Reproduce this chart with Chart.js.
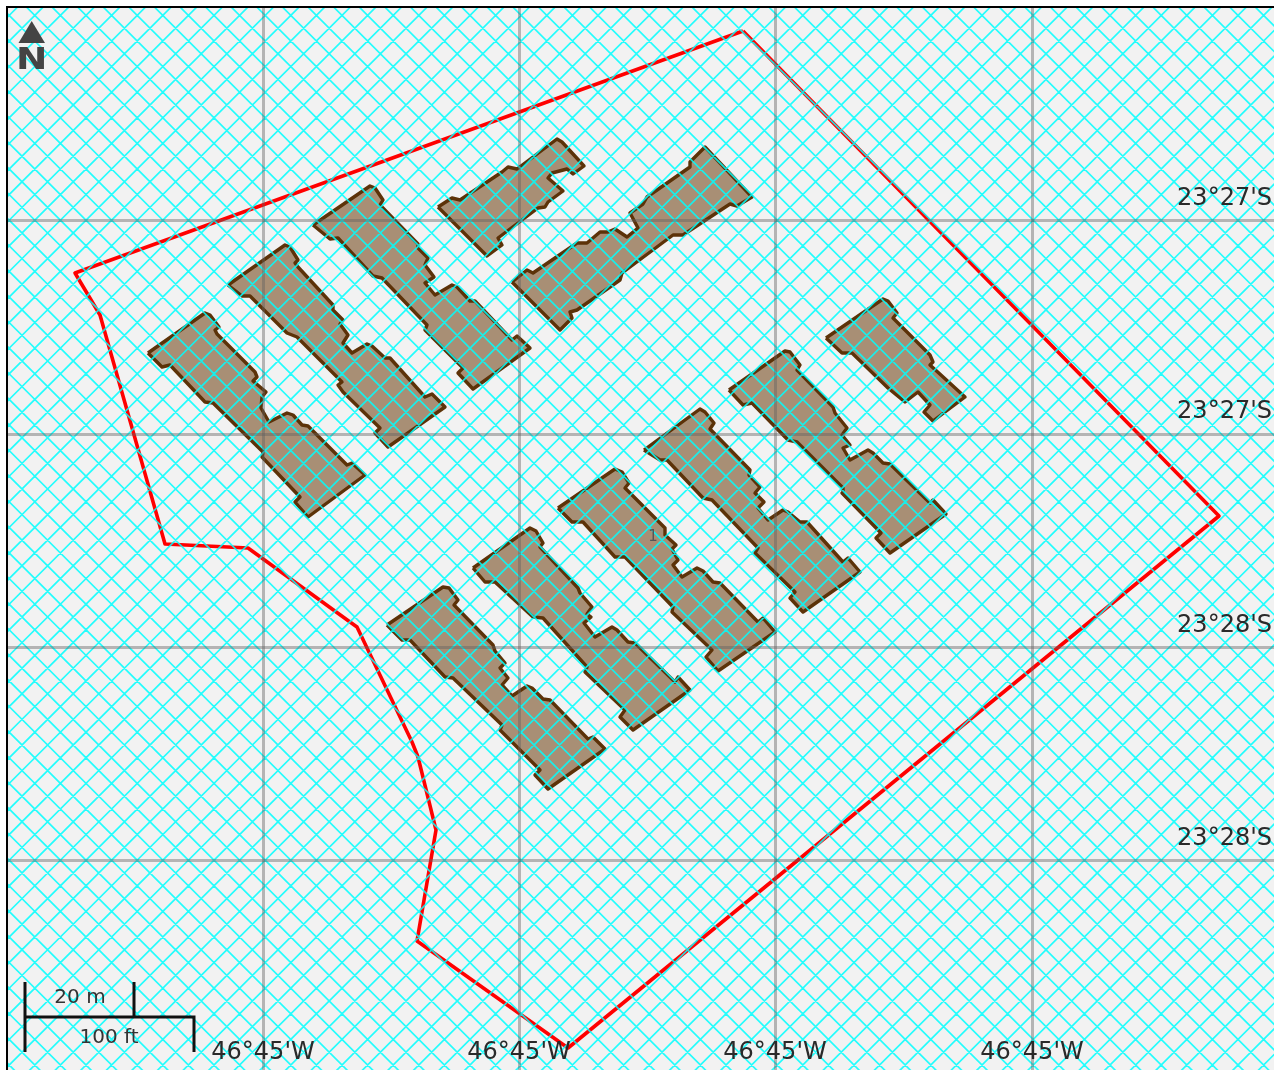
<!DOCTYPE html>
<html><head><meta charset="utf-8">
<script src="https://cdn.jsdelivr.net/npm/chart.js@4"></script>
<style>
html,body{margin:0;padding:0;background:#fff;overflow:hidden;width:1274px;height:1070px}
#frame{position:absolute;left:6px;top:6px;width:1268px;height:1064px;box-sizing:border-box;border-left:2.5px solid #000;border-top:2.5px solid #000}
#c{position:absolute;left:8px;top:8px;filter:blur(0.6px)}
</style></head><body>
<div id="frame"></div>
<canvas id="c" width="1266" height="1062"></canvas>
<script>
// Map features, in map units
const boundary=[[743,31],[1219,516],[568,1048],[417,941],[436,830],[418,757],[412,742],[357,627],[350,622],[248,548],[165,544],[100,315],[75,273],[743,31]];
const buildingA=[[148,353],[205,313],[210,315],[219,327],[215,330],[217,334],[255,372],[257,377],[253,381],[266,392],[262,397],[261,408],[269,422],[287,413],[293,415],[302,425],[308,426],[347,465],[352,463],[365,475],[308,517],[295,502],[300,497],[262,457],[263,452],[213,403],[205,402],[170,365],[162,367],[148,353]];
const buildingB=[[228,285],[285,245],[290,247],[298,260],[295,263],[298,267],[333,305],[333,310],[343,320],[340,324],[348,335],[343,343],[352,353],[367,344],[372,346],[385,358],[390,358],[425,397],[432,394],[445,407],[388,447],[375,433],[380,428],[343,392],[338,385],[342,382],[297,337],[287,333],[250,296],[242,296],[228,285]];
const buildingC=[[313,225],[370,186],[375,188],[383,200],[380,205],[418,244],[418,248],[428,258],[425,265],[434,277],[425,283],[435,295],[452,285],[457,287],[470,301],[475,301],[512,340],[517,336],[530,348],[473,389],[458,373],[463,368],[425,330],[427,325],[382,278],[373,276],[338,238],[330,239],[313,225]];
const buildingD=[[438,207],[452,198],[460,200],[502,172],[508,167],[517,169],[557,139],[562,142],[584,166],[573,174],[567,169],[552,173],[548,178],[563,191],[548,202],[545,207],[538,208],[498,238],[502,245],[487,256],[438,207]];
const buildingE=[[512,282],[527,270],[533,273],[577,243],[587,243],[600,232],[608,232],[615,229],[627,237],[638,228],[630,213],[643,204],[647,197],[690,167],[690,162],[705,147],[752,197],[737,206],[730,204],[683,235],[673,235],[622,273],[620,280],[577,310],[570,312],[572,318],[560,330],[512,282]];
const buildingF=[[826,338],[883,299],[888,301],[897,313],[893,318],[930,355],[933,362],[930,365],[965,397],[933,421],[924,412],[930,405],[918,392],[905,402],[888,388],[852,353],[842,353],[826,338]];
const buildingG=[[729,390],[785,351],[790,352],[800,365],[797,370],[833,407],[835,413],[847,428],[842,435],[850,445],[843,448],[850,460],[868,450],[873,453],[883,463],[890,464],[930,503],[933,500],[946,514],[890,553],[876,538],[881,533],[842,493],[843,488],[797,442],[788,440],[752,403],[743,405],[729,390]];
const buildingH=[[644,450],[700,409],[705,412],[714,423],[710,429],[750,470],[749,475],[760,487],[755,493],[764,502],[758,508],[768,520],[783,510],[788,512],[800,522],[807,522],[843,562],[848,558],[860,572],[803,612],[790,598],[795,592],[755,553],[758,548],[712,500],[703,498],[667,460],[660,460],[644,450]];
const buildingI=[[558,508],[615,469],[622,472],[629,483],[625,488],[665,528],[665,535],[676,545],[672,549],[678,560],[673,565],[682,577],[697,568],[703,571],[713,582],[720,583],[758,622],[763,618],[775,632],[718,671],[706,657],[712,650],[672,612],[673,607],[625,557],[615,557],[583,522],[572,522],[558,508]];
const buildingJ=[[473,568],[530,528],[536,531],[543,543],[540,547],[578,588],[580,593],[592,607],[587,614],[591,617],[584,623],[595,637],[612,627],[617,630],[628,642],[635,643],[675,682],[678,677],[690,690],[633,730],[620,717],[625,710],[585,672],[587,667],[543,618],[533,617],[495,582],[485,582],[473,568]];
const buildingK=[[387,625],[443,587],[449,588],[458,600],[454,605],[493,645],[495,651],[505,663],[500,668],[508,678],[502,685],[512,696],[527,686],[532,688],[543,699],[550,700],[588,739],[593,737],[605,749],[548,789],[535,775],[540,770],[500,730],[502,725],[453,678],[445,677],[410,640],[402,640],[387,625]];
const northArrow=[[31.7,21],[45,43],[18.5,43],[31.7,21]];
const scaleBar=[[25,982],[25,1052],[25,1017],[134,1017],[134,982],[134,1017],[194,1017],[194,1052]];
// Graticule
const lonTicks=[263,519,775,1032];
const lonLabels=["46°45'W","46°45'W","46°45'W","46°45'W"];
const latTicks=[220.5,434,647.5,861];
const latLabels=["23°27'S","23°27'S","23°28'S","23°28'S"];
// Free text on the map
const mapTexts=["N","20 m","100 ft","1"];
const buildings=[buildingA,buildingB,buildingC,buildingD,buildingE,buildingF,buildingG,buildingH,buildingI,buildingJ,buildingK];

const pts=a=>a.map(p=>({x:p[0],y:p[1]}));
const FONT='"DejaVu Sans"';
const datasets=[
 {label:'boundary',data:pts(boundary),borderColor:'#ff0000',borderWidth:3.6,borderJoinStyle:'round',fill:false,order:1},
 ...buildings.map((b,i)=>({label:'building'+(i+1),data:pts(b),borderColor:'#5c3208',borderWidth:3.4,borderJoinStyle:'round',backgroundColor:'#a88f75',fill:'shape',order:1})),
 {label:'north',data:pts(northArrow),borderColor:'#444',borderWidth:0,backgroundColor:'#444',fill:'shape',order:0},
 {label:'scale',data:pts(scaleBar),borderColor:'#111',borderWidth:3,fill:false,order:0}
];
const paper={id:'paper',beforeDraw(ch){const c=ch.ctx;c.save();c.fillStyle='#f2f2f2';c.fillRect(0,0,ch.width,ch.height);c.restore();}};
const hatch={id:'hatch',afterDatasetDraw(ch,args){
  if(args.index!==0)return;
  const c=ch.ctx,a=ch.chartArea,P=25.6,S=1279,D=941,L=1600;
  c.save();c.beginPath();c.rect(a.left,a.top,a.right-a.left,a.bottom-a.top);c.clip();
  c.strokeStyle='rgba(0,255,255,0.85)';c.lineWidth=1.7;c.beginPath();
  const ox=ch.scales.x.getPixelForValue(0),oy=ch.scales.y.getPixelForValue(0);
  for(let k=-110;k<=110;k++){
    const s=S+k*P, d=D+k*P;
    c.moveTo(ox+s+L,oy-L);c.lineTo(ox+s-L,oy+L);
    c.moveTo(ox+d-L,oy-L);c.lineTo(ox+d+L,oy+L);
  }
  c.stroke();c.restore();
}};
const texts={id:'texts',afterDraw(ch){
  const c=ch.ctx,X=v=>ch.scales.x.getPixelForValue(v),Y=v=>ch.scales.y.getPixelForValue(v);
  c.save();c.textAlign='center';c.textBaseline='middle';
  c.save();c.translate(X(31.7),Y(61.5));c.scale(1.25,1);
  c.fillStyle='#444';c.font='bold 30px '+FONT;c.fillText(mapTexts[0],0,0);c.restore();
  c.fillStyle='#333';c.font='20px '+FONT;c.fillText(mapTexts[1],X(80),Y(998));c.fillText(mapTexts[2],X(109),Y(1038));
  c.fillStyle='#555';c.font='15px '+FONT;c.fillText(mapTexts[3],X(653),Y(537));
  c.restore();
}};
const flat=k=>s=>{s[k]=0;s.paddingTop=0;s.paddingBottom=0;s.paddingLeft=0;s.paddingRight=0;};
new Chart(document.getElementById('c'),{
 type:'scatter',
 data:{datasets},
 plugins:[paper,hatch,texts],
 options:{
  responsive:false,animation:false,devicePixelRatio:1,
  layout:{padding:0},
  elements:{point:{radius:0,hoverRadius:0},line:{tension:0}},
  datasets:{scatter:{showLine:true,pointRadius:0}},
  plugins:{legend:{display:false},tooltip:{enabled:false},title:{display:false}},
  events:[],
  scales:{
   x:{type:'linear',position:'bottom',min:8,max:1274,
      afterBuildTicks:s=>{s.ticks=lonTicks.map(v=>({value:v}));},afterFit:flat('height'),
      border:{display:false},
      grid:{color:'rgba(95,95,95,0.42)',lineWidth:3,z:1,drawTicks:false,tickLength:0},
      ticks:{z:2,color:'#2a2a2a',font:{family:FONT,size:24},mirror:true,padding:2.4,maxRotation:0,minRotation:0,autoSkip:false,
             callback:v=>lonLabels[lonTicks.indexOf(v)]}},
   y:{type:'linear',position:'right',reverse:true,min:8,max:1070,
      afterBuildTicks:s=>{s.ticks=latTicks.map(v=>({value:v}));},afterFit:flat('width'),
      border:{display:false},
      grid:{color:'rgba(95,95,95,0.42)',lineWidth:3,z:1,drawTicks:false,tickLength:0},
      ticks:{z:2,color:'#2a2a2a',font:{family:FONT,size:24},mirror:true,padding:-2,labelOffset:-22,autoSkip:false,
             callback:v=>latLabels[latTicks.indexOf(v)]}}
  }
 }
});
</script>
</body></html>
